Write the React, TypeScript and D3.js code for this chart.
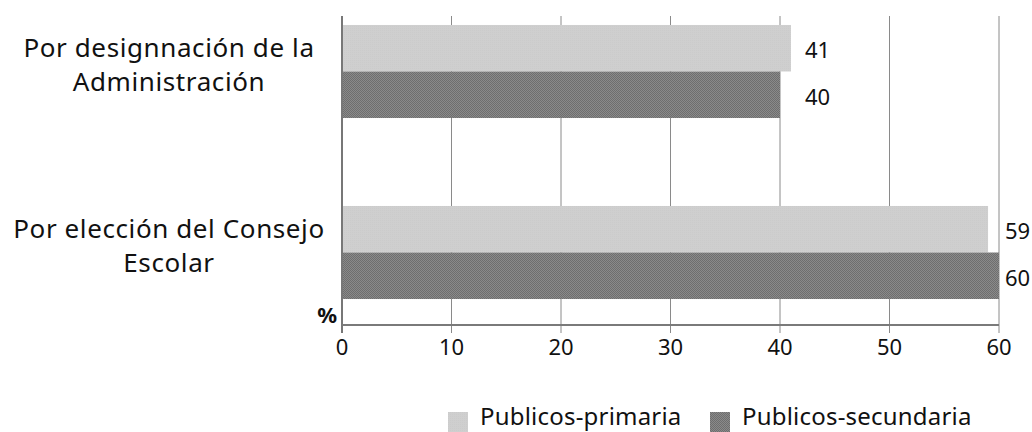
import React from "react";
import * as d3 from "d3";

const categories = ["Por designnación de la Administración", "Por elección del Consejo Escolar"];
const categoryLines = [["Por designnación de la", "Administración"], ["Por elección del Consejo", "Escolar"]];
const seriesNames = ["Publicos-primaria", "Publicos-secundaria"];
const primaria = [41, 59];
const secundaria = [40, 60];
const xTicks = [0, 10, 20, 30, 40, 50, 60];

const W = 1032, H = 432;
const FONT = "'Noto Sans', 'Open Sans', sans-serif";

export default function App() {
  const x = d3.scaleLinear().domain([0, 60]).range([342, 999]);
  const y = d3.scaleBand<string>().domain(categories).range([-19, 343]).paddingInner(0.486).paddingOuter(0.243);
  const ys = d3.scaleBand<string>().domain(seriesNames).range([0, y.bandwidth()]).padding(0);
  const plotTop = 16, plotBottom = 325;
  const series = [primaria, secundaria];
  const fills = ["url(#pLight)", "url(#pDark)"];

  return (
    <svg width={W} height={H} style={{ position: "absolute", left: 0, top: 0, background: "#fff" }} fontFamily={FONT}>
      <defs>
        <pattern id="pLight" width={2} height={2} patternUnits="userSpaceOnUse">
          <rect width={2} height={2} fill="#cfcfcf" />
          <rect width={1} height={1} fill="#cbcbcb" />
        </pattern>
        <pattern id="pDark" width={2} height={2} patternUnits="userSpaceOnUse">
          <rect width={2} height={2} fill="#8a8a8a" />
          <rect width={1} height={1} fill="#6e6e6e" />
          <rect x={1} y={1} width={1} height={1} fill="#6e6e6e" />
        </pattern>
      </defs>
      {xTicks.map((t) => (
        <line key={t} x1={x(t)} x2={x(t)} y1={plotTop} y2={plotBottom + 8} stroke="#8a8a8a" strokeWidth={1} />
      ))}
      {categories.map((c, ci) => (
        <g key={c}>
          {series.map((s, si) => (
            <rect key={si} x={x(0)} y={(y(c) as number) + (ys(seriesNames[si]) as number)} width={x(s[ci]) - x(0)} height={ys.bandwidth()} fill={fills[si]} />
          ))}
          {series.map((s, si) => {
            const maxV = Math.max(primaria[ci], secundaria[ci]);
            const lx = Math.min(x(maxV) + 14, x(60) + 6);
            return (
              <text key={"l" + si} x={lx} y={(y(c) as number) + (ys(seriesNames[si]) as number) + ys.bandwidth() / 2 + 10} fontSize={22} fill="#111">
                {s[ci]}
              </text>
            );
          })}
          <text textAnchor="middle" fontSize={26} letterSpacing={0.6} fill="#111">
            {categoryLines[ci].map((ln, li) => (
              <tspan key={li} x={169} y={(y(c) as number) + 32 + li * 34}>{ln}</tspan>
            ))}
          </text>
        </g>
      ))}
      <line x1={x(0)} x2={x(0)} y1={plotTop} y2={plotBottom + 8} stroke="#777" strokeWidth={2} />
      <line x1={x(0)} x2={x(60)} y1={plotBottom} y2={plotBottom} stroke="#7a7a7a" strokeWidth={2} />
      {xTicks.map((t) => (
        <text key={"t" + t} x={x(t)} y={355} textAnchor="middle" fontSize={22} fill="#111">{t}</text>
      ))}
      <text x={337} y={323} textAnchor="end" fontSize={22} fontWeight="bold" fill="#111">%</text>
      {seriesNames.map((n, i) => {
        const lx = [448, 710][i];
        return (
          <g key={n}>
            <rect x={lx} y={412} width={20} height={20} fill={fills[i]} />
            <text x={lx + 32} y={425} fontSize={24} letterSpacing={0.2} fill="#111">{n}</text>
          </g>
        );
      })}
    </svg>
  );
}
